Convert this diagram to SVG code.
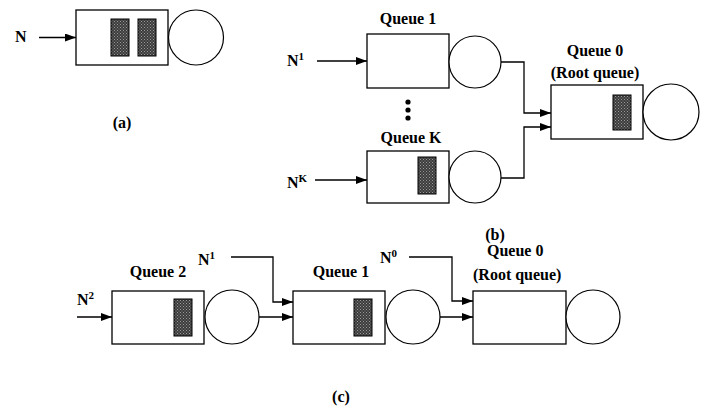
<svg xmlns="http://www.w3.org/2000/svg" width="704" height="409" viewBox="0 0 704 409">
  <style>
    .box { fill: #fff; stroke: #000; stroke-width: 1.3; }
    .srv { fill: #fff; stroke: #000; stroke-width: 1.2; }
    .pkt { fill: url(#stipple); stroke: #000; stroke-width: 1; }
    .wire { fill: none; stroke: #000; stroke-width: 1.3; }
    text { font-family: "Liberation Serif", "Times New Roman", serif; font-weight: bold; font-size: 16px; fill: #000; }
    .sup { font-size: 11px; }
    .mid { text-anchor: middle; }
  </style>
  <defs>
    <pattern id="stipple" width="3" height="3" patternUnits="userSpaceOnUse">
      <rect width="3" height="3" fill="#3c3c3c"/>
      <rect x="0" y="0" width="1" height="1" fill="#9a9a9a"/>
      <rect x="1.5" y="1.5" width="1" height="1" fill="#8a8a8a"/>
    </pattern>
    <marker id="arrow" markerUnits="userSpaceOnUse" markerWidth="11" markerHeight="8" refX="11" refY="4" orient="auto">
      <path d="M0,0 L11,4 L0,8 z" fill="#000"/>
    </marker>
  </defs>

  <!-- (a) single queue -->
  <g id="a-queue">
    <rect class="box" x="76" y="10" width="92" height="55"/>
    <rect class="pkt" x="111" y="19" width="18" height="37"/>
    <rect class="pkt" x="138" y="19" width="18" height="37"/>
    <circle class="srv" cx="196" cy="37.5" r="27.5"/>
  </g>
  <text x="15" y="42">N</text>
  <text class="mid" x="122" y="128">(a)</text>

  <!-- (b) K queues feeding the root queue -->
  <g id="b-queue1">
    <rect class="box" x="367" y="34" width="82" height="54"/>
    <circle class="srv" cx="475" cy="62" r="26"/>
  </g>
  <g id="b-queueK">
    <rect class="box" x="367" y="151" width="82" height="52"/>
    <rect class="pkt" x="418" y="157" width="18" height="37"/>
    <circle class="srv" cx="475" cy="177" r="26"/>
  </g>
  <g id="b-queue0">
    <rect class="box" x="551" y="85" width="92" height="54"/>
    <rect class="pkt" x="613" y="95" width="18" height="35"/>
    <circle class="srv" cx="671" cy="112" r="28"/>
  </g>
  <g id="b-dots">
    <circle cx="408" cy="102" r="2.6" fill="#000"/>
    <circle cx="408" cy="110" r="2.6" fill="#000"/>
    <circle cx="408" cy="118" r="2.6" fill="#000"/>
  </g>
  <text class="mid" x="408" y="24">Queue 1</text>
  <text class="mid" x="411" y="143">Queue K</text>
  <text class="mid" x="595" y="56">Queue 0</text>
  <text class="mid" x="595" y="78">(Root queue)</text>
  <text x="287" y="66">N<tspan class="sup" dy="-6">1</tspan></text>
  <text x="287" y="188">N<tspan class="sup" dy="-6">K</tspan></text>
  <text class="mid" x="495" y="240">(b)</text>

  <!-- (c) chain of queues -->
  <g id="c-queue2">
    <rect class="box" x="112" y="291" width="92" height="53"/>
    <rect class="pkt" x="174" y="299" width="18" height="37"/>
    <circle class="srv" cx="232" cy="317" r="27"/>
  </g>
  <g id="c-queue1">
    <rect class="box" x="293" y="291" width="92" height="53"/>
    <rect class="pkt" x="354" y="299" width="18" height="37"/>
    <circle class="srv" cx="413" cy="317" r="27"/>
  </g>
  <g id="c-queue0">
    <rect class="box" x="473" y="291" width="93" height="53"/>
    <circle class="srv" cx="593" cy="317" r="27"/>
  </g>
  <text class="mid" x="158" y="277">Queue 2</text>
  <text class="mid" x="341" y="277">Queue 1</text>
  <text x="487" y="256">Queue 0</text>
  <text x="473" y="280">(Root queue)</text>
  <text x="77" y="305">N<tspan class="sup" dy="-6">2</tspan></text>
  <text x="198" y="265">N<tspan class="sup" dy="-6">1</tspan></text>
  <text x="380" y="263">N<tspan class="sup" dy="-6">0</tspan></text>
  <text class="mid" x="341" y="402">(c)</text>

  <!-- connectors -->
  <g id="connectors">
    <path class="wire" d="M39,37.5 H76" marker-end="url(#arrow)"/>
    <path class="wire" d="M317,61 H367" marker-end="url(#arrow)"/>
    <path class="wire" d="M315,180 H367" marker-end="url(#arrow)"/>
    <path class="wire" d="M501,62 H524 V113 H551" marker-end="url(#arrow)"/>
    <path class="wire" d="M501,178 H524 V127 H551" marker-end="url(#arrow)"/>
    <path class="wire" d="M77,317 H112" marker-end="url(#arrow)"/>
    <path class="wire" d="M231,257 H273 V302 H293" marker-end="url(#arrow)"/>
    <path class="wire" d="M259,317 H293" marker-end="url(#arrow)"/>
    <path class="wire" d="M409,257 H452 V301 H473" marker-end="url(#arrow)"/>
    <path class="wire" d="M440,317 H473" marker-end="url(#arrow)"/>
  </g>
</svg>
